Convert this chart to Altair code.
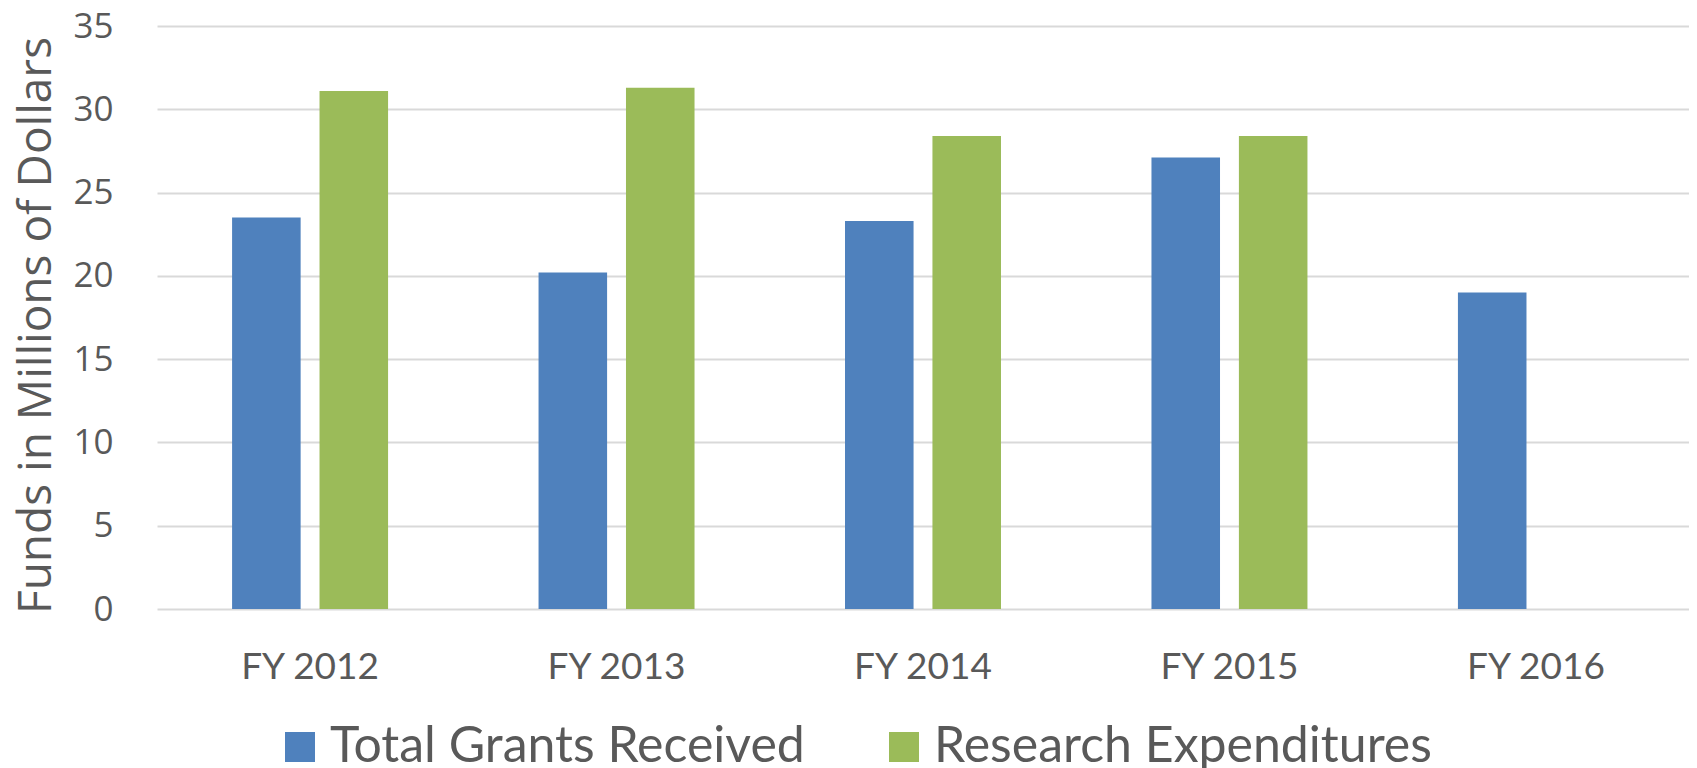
import altair as alt
import pandas as pd

categories = ["FY 2012", "FY 2013", "FY 2014", "FY 2015", "FY 2016"]
series = ["Total Grants Received", "Research Expenditures"]
grants = [23.5, 20.2, 23.3, 27.1, 19.0]
research = [31.1, 31.3, 28.4, 28.4, None]
colors = ["#4F81BD", "#9BBB59"]
y_ticks = [0, 5, 10, 15, 20, 25, 30, 35]

rows = []
for c, g, r in zip(categories, grants, research):
    if g is not None:
        rows.append({"Year": c, "Series": series[0], "Value": g})
    if r is not None:
        rows.append({"Year": c, "Series": series[1], "Value": r})
df = pd.DataFrame(rows)

TEXT = "#595959"
W, H = 1532, 583

chart = alt.Chart(df).mark_bar().encode(
    x=alt.X(
        "Year:N",
        sort=categories,
        scale=alt.Scale(paddingInner=0.491, paddingOuter=0.245),
        axis=alt.Axis(
            title=None, labelAngle=0, ticks=False, tickSize=0, domain=False, grid=False,
            labelFont="Lato", labelFontSize=37, labelColor=TEXT,
            labelBaseline="alphabetic", labelPadding=69,
        ),
    ),
    xOffset=alt.XOffset("Series:N", sort=series,
                        scale=alt.Scale(paddingInner=0.216, paddingOuter=0)),
    y=alt.Y(
        "Value:Q",
        scale=alt.Scale(domain=[0, 35], nice=False),
        axis=alt.Axis(
            values=y_ticks, title="Funds in Millions of Dollars",
            ticks=False, tickSize=0, domain=False,
            grid=True, gridColor="#D9D9D9", gridWidth=1.8,
            labelFont="Open Sans", labelFontSize=35, labelColor=TEXT,
            labelPadding=44,
            titleFont="Open Sans", titleFontSize=46, titleFontWeight="normal",
            titleColor=TEXT, titleAngle=270, titleX=-121, titleY=299,
            titleAlign="center", titleBaseline="middle",
        ),
    ),
    color=alt.Color(
        "Series:N",
        sort=series,
        scale=alt.Scale(domain=series, range=colors),
        legend=alt.Legend(
            title=None, orient="none", direction="horizontal",
            legendX=118, legendY=696,
            symbolType="square", symbolSize=900, symbolStrokeWidth=0,
            symbolOpacity=1,
            labelFont="Lato", labelFontSize=50, labelColor=TEXT,
            labelOffset=5, columnPadding=74, padding=0,
            labelLimit=1000,
        ),
    ),
).properties(
    width=W, height=H,
    autosize=alt.AutoSizeParams(type="none"),
    padding={"left": 149, "top": 18, "right": 0, "bottom": 159},
).configure_view(stroke=None)

chart.save("out.html", embed_options={"renderer": "svg", "actions": False})
